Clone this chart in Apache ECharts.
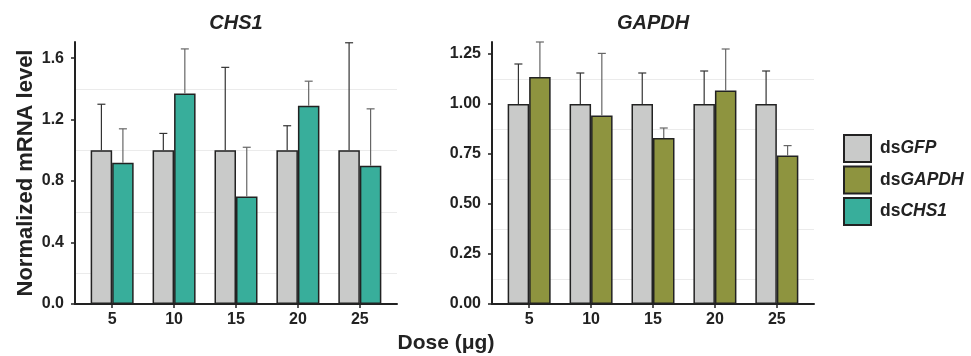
<!DOCTYPE html>
<html>
<head>
<meta charset="utf-8">
<script src="https://cdn.jsdelivr.net/npm/echarts@6/dist/echarts.min.js"></script>
<style>
  html, body { margin: 0; padding: 0; background: #fff; }
  #chart { width: 971px; height: 356px; }
</style>
</head>
<body>
<div id="chart"></div>
<script>
// dose categories (µg)
const doses = [5, 10, 15, 20, 25];

// CHS1 panel
const chsGfp = [1, 1, 1, 1, 1];
const chsGfpSd = [0.30, 0.11, 0.54, 0.16, 0.70];
const chsTreat = [0.92, 1.37, 0.70, 1.29, 0.90];
const chsTreatSd = [0.22, 0.29, 0.32, 0.16, 0.37];

// GAPDH panel
const gapGfp = [1, 1, 1, 1, 1];
const gapGfpSd = [0.20, 0.155, 0.155, 0.165, 0.165];
const gapTreat = [1.135, 0.943, 0.83, 1.067, 0.742];
const gapTreatSd = [0.175, 0.31, 0.05, 0.208, 0.05];

// tick labels
const chsTicks = [0, 0.4, 0.8, 1.2, 1.6];
const gapTicks = [0, 0.25, 0.5, 0.75, 1.0, 1.25];

const FONT = "'Liberation Sans', Arial, sans-serif";
const INK = '#222';
const BAR_W = 21.5;
const colors = { gfp: '#c9cac9', gapdh: '#8e943f', chs1: '#38ae9b' };

// light lines half way between the labelled ticks, none at the axis ends
function gridColors(max, step) {
    const n = Math.floor(max / step + 1e-9) + 2;
    const out = [];
    for (let i = 0; i < n; i++) {
        out.push(i % 2 === 1 && i < n - 1 ? '#ebebeb' : 'rgba(0,0,0,0)');
    }
    return out;
}

function pairs(vals) {
    return doses.map((d, i) => [d, vals[i]]);
}

function errData(vals, sds) {
    return doses.map((d, i) => [d, vals[i] + sds[i], vals[i]]);
}

function barSeries(name, vals, color, idx) {
    return {
        name: name,
        type: 'bar',
        xAxisIndex: idx,
        yAxisIndex: idx,
        barWidth: BAR_W,
        barGap: '0%',
        itemStyle: { color: color, borderColor: INK, borderWidth: 1.5 },
        data: pairs(vals)
    };
}

function errSeries(vals, sds, side, color, idx) {
    return {
        type: 'custom',
        xAxisIndex: idx,
        yAxisIndex: idx,
        z: 5,
        silent: true,
        clip: false,
        renderItem: function (params, api) {
            const top = api.coord([api.value(0), api.value(1)]);
            const base = api.coord([api.value(0), api.value(2)]);
            const cx = top[0] + side * BAR_W / 2;
            const style = { stroke: color, lineWidth: 1.2 };
            return {
                type: 'group',
                children: [
                    { type: 'line', shape: { x1: cx, y1: base[1], x2: cx, y2: top[1] }, style: style },
                    { type: 'line', shape: { x1: cx - 4, y1: top[1], x2: cx + 4, y2: top[1] }, style: style }
                ]
            };
        },
        data: errData(vals, sds)
    };
}

function xAxisOpt(idx) {
    return {
        type: 'value',
        gridIndex: idx,
        min: 2,
        max: 28,
        splitLine: { show: false },
        axisLine: { lineStyle: { color: INK, width: 2 } },
        axisTick: { customValues: doses, length: 4, lineStyle: { color: INK, width: 1.5 } },
        axisLabel: {
            customValues: doses,
            margin: 8,
            color: INK,
            fontFamily: FONT,
            fontWeight: 'bold',
            fontSize: 16
        }
    };
}

function yAxisOpt(idx, max, ticks, digits) {
    return {
        type: 'value',
        gridIndex: idx,
        min: 0,
        max: max,
        axisLine: { show: true, lineStyle: { color: INK, width: 2 } },
        axisTick: { show: true, customValues: ticks, length: 4, lineStyle: { color: INK, width: 1.5 } },
        axisLabel: {
            customValues: ticks,
            margin: 11,
            color: INK,
            fontFamily: FONT,
            fontWeight: 'bold',
            fontSize: 16,
            formatter: v => v.toFixed(digits)
        },
        splitLine: { show: false }
    };
}

// hidden axis that only draws the background grid lines
function gridAxisOpt(idx, max, step) {
    return {
        type: 'value',
        gridIndex: idx,
        min: 0,
        max: max,
        interval: step,
        axisLine: { show: false },
        axisTick: { show: false },
        axisLabel: { show: false },
        splitLine: { show: true, lineStyle: { color: gridColors(max, step), width: 1 } }
    };
}

const titleStyle = { fontFamily: FONT, fontWeight: 'bold', fontStyle: 'italic', fontSize: 20, color: INK };

const chart = echarts.init(document.getElementById('chart'));

const yLeft = yAxisOpt(0, 1.705, chsTicks, 1);
yLeft.name = 'Normalized mRNA level';
yLeft.nameLocation = 'middle';
yLeft.nameRotate = 90;
yLeft.nameGap = 38;
yLeft.nameTextStyle = { fontFamily: FONT, fontWeight: 'bold', fontSize: 22, color: INK };

chart.setOption({
    animation: false,
    backgroundColor: '#fff',
    title: [
        { text: 'CHS1', left: 236, top: 13, textAlign: 'center', padding: 0, textStyle: titleStyle },
        { text: 'GAPDH', left: 653, top: 13, textAlign: 'center', padding: 0, textStyle: titleStyle },
        {
            text: 'Dose (μg)', left: 446, top: 333, textAlign: 'center', padding: 0,
            textStyle: { fontFamily: FONT, fontWeight: 'bold', fontSize: 21, color: INK }
        }
    ],
    legend: {
        data: ['dsGFP', 'dsGAPDH', 'dsCHS1'],
        orient: 'vertical',
        left: 843,
        top: 134,
        padding: 0,
        itemWidth: 27,
        itemHeight: 27,
        itemGap: 2.5,
        icon: 'rect',
        selectedMode: false,
        formatter: name => '{a|ds}{b|' + name.slice(2) + '}',
        textStyle: {
            padding: [0, 0, 0, 4],
            rich: {
                a: { fontFamily: FONT, fontWeight: 'bold', fontSize: 17.5, color: INK },
                b: { fontFamily: FONT, fontWeight: 'bold', fontStyle: 'italic', fontSize: 17.5, color: INK }
            }
        }
    },
    grid: [
        { left: 75, top: 42, width: 322, bottom: 52 },
        { left: 492, top: 42, width: 322, bottom: 52 }
    ],
    xAxis: [xAxisOpt(0), xAxisOpt(1)],
    yAxis: [
        yLeft,
        yAxisOpt(1, 1.31, gapTicks, 2),
        gridAxisOpt(0, 1.705, 0.2),
        gridAxisOpt(1, 1.31, 0.125)
    ],
    series: [
        barSeries('dsGFP', chsGfp, colors.gfp, 0),
        barSeries('dsCHS1', chsTreat, colors.chs1, 0),
        errSeries(chsGfp, chsGfpSd, -1, '#333', 0),
        errSeries(chsTreat, chsTreatSd, 1, '#666', 0),
        barSeries('dsGFP', gapGfp, colors.gfp, 1),
        barSeries('dsGAPDH', gapTreat, colors.gapdh, 1),
        errSeries(gapGfp, gapGfpSd, -1, '#333', 1),
        errSeries(gapTreat, gapTreatSd, 1, '#666', 1)
    ]
});
</script>
</body>
</html>
